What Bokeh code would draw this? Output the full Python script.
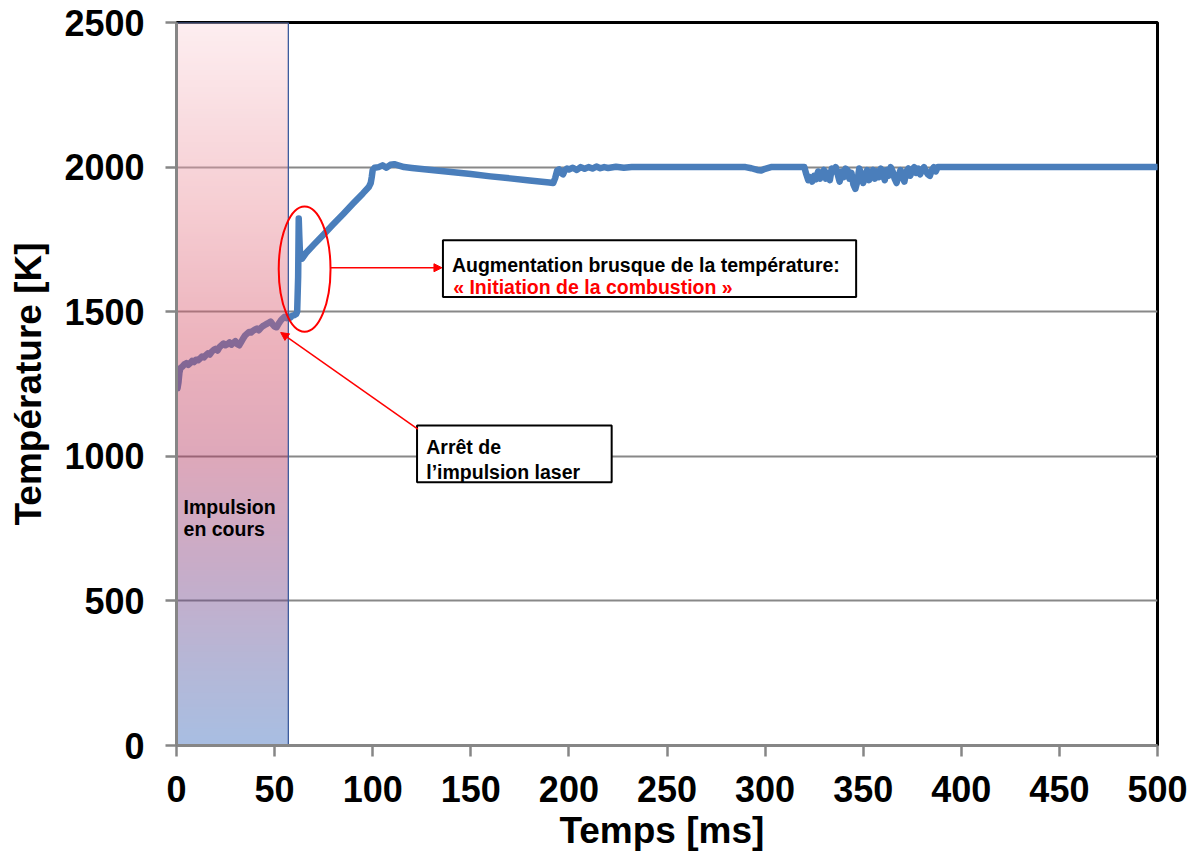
import numpy as np
from bokeh.plotting import figure
from bokeh.models import FixedTicker, Range1d, Label, Arrow, NormalHead
from bokeh.embed import file_html
from bokeh.resources import INLINE

# ---------------- data ----------------
time_ms = [
    0.5, 1, 1.5, 2, 3, 4, 5, 6, 7, 8, 9, 10, 11, 12, 13, 14, 15, 16, 17, 18, 19, 20,
    21, 22, 23, 24, 25, 26, 27, 28, 29, 30, 31, 32, 33, 34, 35, 36, 37, 38, 39, 40,
    41, 42, 43, 44, 45, 46, 47, 48, 49, 50, 51, 52, 53, 54, 55, 56, 57, 58, 59, 60,
    61, 61.5,
    62, 62.3, 62.6, 63, 64,
    66, 70, 75, 80, 85, 90, 95, 98, 99, 99.5, 100, 101, 103, 105, 107, 109, 111, 113, 116,
    120, 130, 140, 150, 160, 170, 180, 190, 192, 193, 194, 195, 196, 197, 198, 199, 200,
    202, 204, 206, 208, 210, 212, 214, 216, 218, 220, 224, 228, 232,
    290, 293, 296, 298, 300, 303, 320,
    321, 322, 323, 324, 325, 326, 327, 328, 329, 330, 331, 332, 333, 334, 335, 336, 337,
    338, 339, 340, 341, 342, 343, 344, 345, 346, 347, 348, 349, 350, 351, 352, 353, 354,
    355, 356, 357, 358, 359, 360, 361, 362, 363, 364, 365, 366, 367, 368, 369, 370, 371,
    372, 373, 374, 375, 376, 377, 378, 379, 380, 381, 382, 383, 384, 385, 386, 387, 388,
    500,
]
temp_k = [
    1235, 1255, 1290, 1305, 1310, 1318, 1322, 1316, 1322, 1330, 1326, 1334, 1332, 1338, 1345, 1342, 1350, 1356, 1352, 1362, 1368, 1372,
    1366, 1378, 1384, 1390, 1384, 1388, 1394, 1386, 1392, 1398, 1388, 1384, 1396, 1408, 1418, 1424, 1430, 1428, 1434, 1438,
    1442, 1436, 1444, 1450, 1454, 1458, 1462, 1466, 1456, 1448, 1446, 1458, 1468, 1476, 1482, 1478, 1484, 1480, 1486, 1488,
    1492, 1500,
    1620, 1822, 1760, 1690, 1684,
    1703, 1732, 1767, 1803, 1838, 1874, 1909, 1931, 1945, 1965, 1990, 1998, 2000, 2006, 1998, 2008, 2010, 2006, 2000,
    1997, 1990, 1983, 1976, 1968, 1961, 1954, 1947, 1945, 1962, 1988, 1992, 1980, 1975, 1990, 1995, 1992,
    1998, 1990, 2000, 1994, 2000, 1995, 2002, 1996, 2000, 1997, 2001, 1998, 2000,
    2000, 1996, 1990, 1988, 1994, 2000, 2000,
    1975, 1955, 1965, 1950, 1970, 1958, 1985, 1960, 1975, 1990, 1960, 1980, 1955, 1995, 1985, 2000, 1975,
    1950, 1985, 1965, 1995, 1990, 1960, 1980, 1940, 1925, 1950, 1995, 1975, 1945, 1970, 1990, 1955, 1980,
    1990, 1960, 1985, 1965, 1995, 1975, 1955, 1990, 1970, 2000, 1985, 1960, 1945, 1970, 1990, 1965, 1950,
    1985, 1995, 1970, 1990, 2000, 1980, 1995, 1975, 1990, 2000, 1985, 1975, 1970, 1990, 2000, 1985, 2000,
    2000,
]
x_ticks = [0, 50, 100, 150, 200, 250, 300, 350, 400, 450, 500]
y_ticks = [0, 500, 1000, 1500, 2000, 2500]
pulse_end_ms = 57

x_title = "Temps  [ms]"
y_title = "Température [K]"
pulse_text = ["Impulsion", "en cours"]
combustion_text = ["Augmentation brusque de la température:", "« Initiation de la combustion »"]
stop_text = ["Arrêt de", "l’impulsion laser"]

# ---------------- figure ----------------
FONT = "Liberation Sans"
p = figure(width=1196, height=858, x_range=Range1d(0, 500), y_range=Range1d(0, 2500),
           output_backend="svg", toolbar_location=None,
           min_border_left=176, min_border_top=22, min_border_right=39, min_border_bottom=113)
p.background_fill_color = "white"
p.border_fill_color = "white"
p.outline_line_color = "black"
p.outline_line_width = 3

p.xgrid.visible = False
p.ygrid.ticker = FixedTicker(ticks=y_ticks)
p.ygrid.grid_line_color = "#888888"
p.ygrid.grid_line_width = 2

p.xaxis.ticker = FixedTicker(ticks=x_ticks)
p.yaxis.ticker = FixedTicker(ticks=y_ticks)
for ax in (p.xaxis[0], p.yaxis[0]):
    ax.axis_line_color = "#868686"
    ax.axis_line_width = 3
    ax.major_tick_line_color = "#868686"
    ax.major_tick_line_width = 2.5
    ax.major_tick_in = 0
    ax.major_tick_out = 11
    ax.minor_tick_line_color = None
    ax.major_label_text_font = FONT
    ax.major_label_text_font_style = "bold"
    ax.major_label_text_font_size = "36px"
    ax.major_label_text_color = "black"
    ax.axis_label_text_font = FONT
    ax.axis_label_text_font_style = "bold"
    ax.axis_label_text_font_size = "37px"
    ax.axis_label_text_color = "black"
p.xaxis.axis_label = x_title
p.yaxis.axis_label = y_title
p.xaxis.major_label_standoff = 19
p.xaxis.axis_label_standoff = 5
p.yaxis.major_label_standoff = 21
p.yaxis.axis_label_standoff = 12

# data line
p.line(time_ms, temp_k, line_color="#4a7ebb", line_width=6.5, line_join="round", line_cap="round")

# gradient shaded pulse region (semi transparent, drawn over the line)
alpha = 0.43
stop_t = [0.0, 0.25, 0.45, 0.6, 0.75, 0.9, 1.0]   # from top to bottom
stop_rgb = [(253, 238, 240), (246, 206, 211), (236, 178, 188), (222, 168, 186),
            (200, 172, 200), (180, 184, 216), (168, 190, 226)]
N = 300
img = np.empty((N, 4), dtype=np.uint32)
view = img.view(dtype=np.uint8).reshape((N, 4, 4))
for i in range(N):
    t = 1 - (i + 0.5) / N
    for c in range(3):
        obs = np.interp(t, stop_t, [s[c] for s in stop_rgb])
        val = (obs - 255 * (1 - alpha)) / alpha
        view[i, :, c] = int(np.clip(round(val), 0, 255))
    view[i, :, 3] = int(round(alpha * 255))
p.image_rgba(image=[img], x=0, y=0, dw=pulse_end_ms, dh=2500)
p.quad(left=0, right=pulse_end_ms, bottom=0, top=2500, fill_alpha=0,
       line_color="#3d5c9e", line_width=1.3)

# red ellipse around the jump
p.ellipse(x=65.3, y=1647, width=26.4, height=433, fill_alpha=0,
          line_color="#ff0000", line_width=2)

# annotation boxes
p.quad(left=135.8, right=346.4, bottom=1550.7, top=1747, fill_color="white",
       line_color="black", line_width=2)
p.quad(left=122.6, right=221.8, bottom=910.3, top=1106.6, fill_color="white",
       line_color="black", line_width=2)

# arrows
p.add_layout(Arrow(end=NormalHead(size=8, fill_color="#ff0000", line_color="#ff0000"),
                   x_start=78.5, y_start=1652, x_end=135.3, y_end=1652,
                   line_color="#ff0000", line_width=1.5))
p.add_layout(Arrow(end=NormalHead(size=8, fill_color="#ff0000", line_color="#ff0000"),
                   x_start=123.0, y_start=1094, x_end=53.1, y_end=1428,
                   line_color="#ff0000", line_width=1.5))

def lab(x, y, text, color="black"):
    p.add_layout(Label(x=x, y=y, text=text, text_font=FONT, text_font_style="bold",
                       text_font_size="19.5px", text_color=color,
                       text_baseline="alphabetic", text_align="left"))

lab(140.4, 1660.4, combustion_text[0])
lab(141.0, 1585.3, combustion_text[1], "#ff0000")
lab(127.3, 1030.5, stop_text[0])
lab(127.3, 945.0, stop_text[1])
lab(3.6, 823.8, pulse_text[0])
lab(3.6, 750.0, pulse_text[1])

open("out.html", "w").write(file_html(p, INLINE))
